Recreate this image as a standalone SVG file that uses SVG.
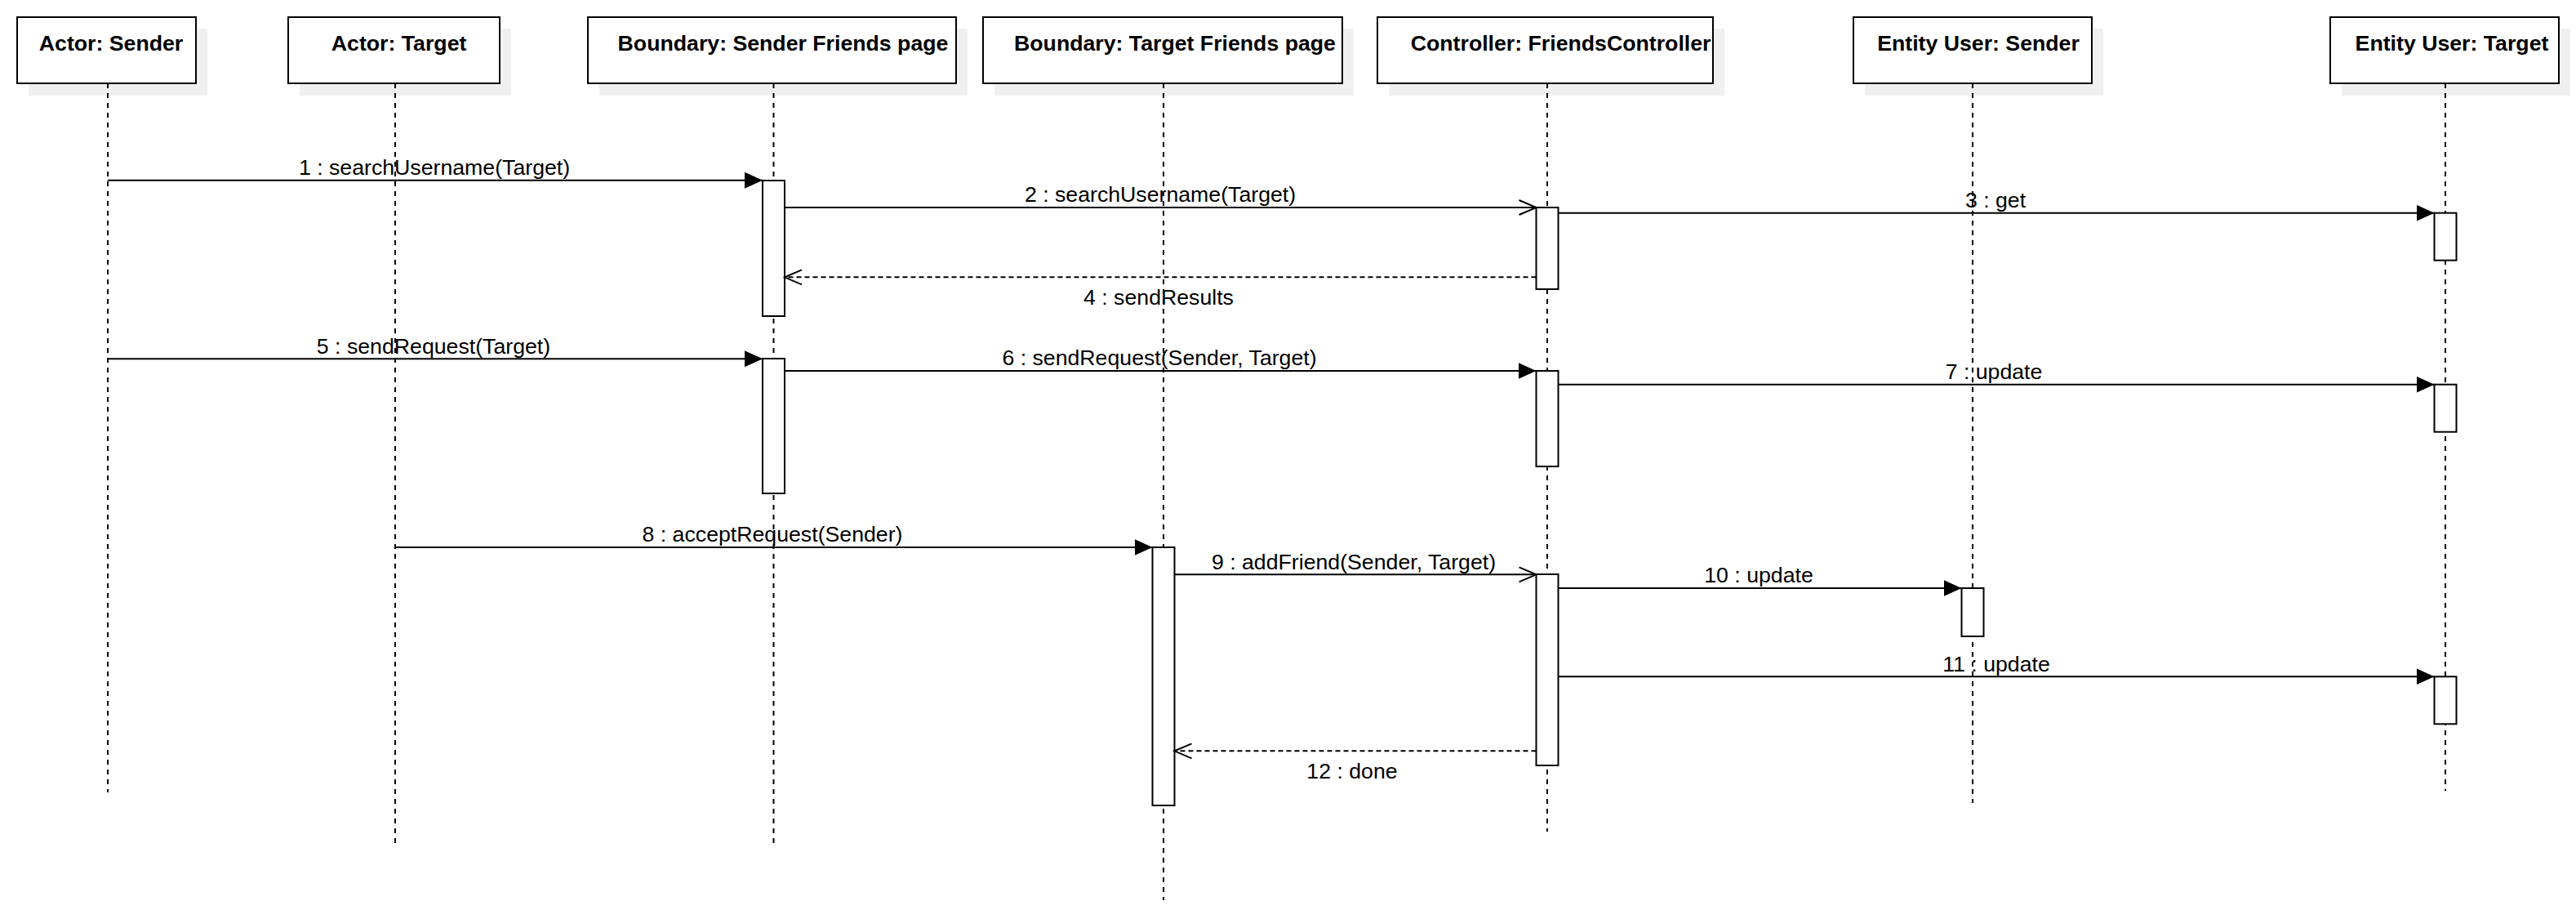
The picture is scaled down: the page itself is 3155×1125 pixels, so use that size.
<svg xmlns="http://www.w3.org/2000/svg" width="3155" height="1125" viewBox="0 0 3155 1125">
<style>
.shadow{fill:#f0f0f0;stroke:none}
.box{fill:#ffffff;stroke:#000000;stroke-width:2}
.title{font-family:"Liberation Sans",Arial,Helvetica,sans-serif;font-weight:bold;font-size:26.7px;fill:#000000;text-anchor:middle}
.life{stroke:#000000;stroke-width:2;stroke-dasharray:6 6;fill:none}
.act{fill:#ffffff;stroke:#000000;stroke-width:2}
.msg{stroke:#000000;stroke-width:2;fill:none}
.ret{stroke:#000000;stroke-width:2;fill:none;stroke-dasharray:6 4}
.lbl{font-family:"Liberation Sans",Arial,Helvetica,sans-serif;font-size:26.7px;fill:#000000;text-anchor:middle}
</style>
<defs>
<marker id="filled" markerUnits="userSpaceOnUse" markerWidth="24" markerHeight="22" refX="22" refY="10" orient="auto" viewBox="0 0 24 22">
<path d="M0,0 L22,10 L0,20 Z" fill="#000000"/>
</marker>
<marker id="open" markerUnits="userSpaceOnUse" markerWidth="26" markerHeight="24" refX="22" refY="10" orient="auto" viewBox="0 0 26 24">
<path d="M1,1 L22,10 L1,19" fill="none" stroke="#000000" stroke-width="2"/>
</marker>
</defs>
<rect width="3155" height="1125" fill="#ffffff"/>

<g id="lifeline-actor-sender">
<rect class="shadow" x="35" y="35" width="219" height="82"/>
<rect class="box" x="21" y="21" width="219" height="81"/>
<text class="title" x="136" y="61.7">Actor: Sender</text>
<line class="life" x1="132" y1="102" x2="132" y2="970"/>
</g>

<g id="lifeline-actor-target">
<rect class="shadow" x="367" y="35" width="259" height="82"/>
<rect class="box" x="353" y="21" width="259" height="81"/>
<text class="title" x="488.6" y="61.7">Actor: Target</text>
<line class="life" x1="484" y1="102" x2="484" y2="1032"/>
</g>

<g id="lifeline-sender-page">
<rect class="shadow" x="734" y="35" width="451" height="82"/>
<rect class="box" x="720" y="21" width="451" height="81"/>
<text class="title" x="959" y="61.7">Boundary: Sender Friends page</text>
<line class="life" x1="947.5" y1="102" x2="947.5" y2="1032"/>
<rect class="act" x="934" y="221" width="27" height="166"/>
<rect class="act" x="934" y="439" width="27" height="165"/>
</g>

<g id="lifeline-target-page">
<rect class="shadow" x="1218" y="35" width="440" height="82"/>
<rect class="box" x="1204" y="21" width="440" height="81"/>
<text class="title" x="1439" y="61.7">Boundary: Target Friends page</text>
<line class="life" x1="1425" y1="102" x2="1425" y2="1102"/>
<rect class="act" x="1411.5" y="670" width="27" height="316"/>
</g>

<g id="lifeline-controller">
<rect class="shadow" x="1701" y="35" width="411" height="82"/>
<rect class="box" x="1687" y="21" width="411" height="81"/>
<text class="title" x="1911.6" y="61.7">Controller: FriendsController</text>
<line class="life" x1="1895" y1="102" x2="1895" y2="1018"/>
<rect class="act" x="1881.5" y="254" width="27" height="100"/>
<rect class="act" x="1881.5" y="454" width="27" height="117"/>
<rect class="act" x="1881.5" y="703" width="27" height="234"/>
</g>

<g id="lifeline-user-sender">
<rect class="shadow" x="2284" y="35" width="292" height="82"/>
<rect class="box" x="2270" y="21" width="292" height="81"/>
<text class="title" x="2423" y="61.7">Entity User: Sender</text>
<line class="life" x1="2416" y1="102" x2="2416" y2="983"/>
<rect class="act" x="2402.5" y="720" width="27" height="59"/>
</g>

<g id="lifeline-user-target">
<rect class="shadow" x="2868" y="35" width="280" height="82"/>
<rect class="box" x="2854" y="21" width="280" height="81"/>
<text class="title" x="3003" y="61.7">Entity User: Target</text>
<line class="life" x1="2995" y1="102" x2="2995" y2="968"/>
<rect class="act" x="2981.5" y="260.7" width="27" height="58"/>
<rect class="act" x="2981.5" y="470.7" width="27" height="58"/>
<rect class="act" x="2981.5" y="828.3" width="27" height="58"/>
</g>

<g id="connectors">
<line class="msg" x1="132" y1="220.7" x2="934" y2="220.7" marker-end="url(#filled)"/>
<text class="lbl" x="532" y="214">1 : searchUsername(Target)</text>

<line class="msg" x1="961" y1="254" x2="1881.5" y2="254" marker-end="url(#open)"/>
<text class="lbl" x="1421" y="247">2 : searchUsername(Target)</text>

<line class="msg" x1="1908.5" y1="260.7" x2="2981.5" y2="260.7" marker-end="url(#filled)"/>
<text class="lbl" x="2444" y="253.5">3 : get</text>

<line class="ret" x1="1881.5" y1="339.3" x2="961" y2="339.3" marker-end="url(#open)"/>
<text class="lbl" x="1419" y="373">4 : sendResults</text>

<line class="msg" x1="132" y1="439.3" x2="934" y2="439.3" marker-end="url(#filled)"/>
<text class="lbl" x="531" y="432.5">5 : sendRequest(Target)</text>

<line class="msg" x1="961" y1="454" x2="1881.5" y2="454" marker-end="url(#filled)"/>
<text class="lbl" x="1420" y="447">6 : sendRequest(Sender, Target)</text>

<line class="msg" x1="1908.5" y1="470.7" x2="2981.5" y2="470.7" marker-end="url(#filled)"/>
<text class="lbl" x="2442" y="464">7 : update</text>

<line class="msg" x1="484" y1="670" x2="1411.5" y2="670" marker-end="url(#filled)"/>
<text class="lbl" x="946" y="663">8 : acceptRequest(Sender)</text>

<line class="msg" x1="1438.5" y1="703.3" x2="1881.5" y2="703.3" marker-end="url(#open)"/>
<text class="lbl" x="1658" y="696.5">9 : addFriend(Sender, Target)</text>

<line class="msg" x1="1908.5" y1="720" x2="2402.5" y2="720" marker-end="url(#filled)"/>
<text class="lbl" x="2154" y="713">10 : update</text>

<line class="msg" x1="1908.5" y1="828.3" x2="2981.5" y2="828.3" marker-end="url(#filled)"/>
<text class="lbl" x="2445" y="821.5">11 : update</text>

<line class="ret" x1="1881.5" y1="919.3" x2="1438.5" y2="919.3" marker-end="url(#open)"/>
<text class="lbl" x="1656" y="953">12 : done</text>
</g>
</svg>
